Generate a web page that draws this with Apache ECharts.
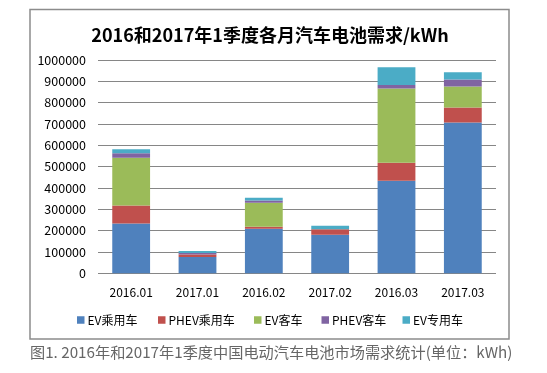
<!DOCTYPE html>
<html><head><meta charset="utf-8">
<script src="https://cdn.jsdelivr.net/npm/echarts@6/dist/echarts.min.js"></script>
<style>html,body{margin:0;padding:0;background:#fff;}#c{width:547px;height:373px;}</style>
</head><body><div id="c"></div>
<script>
const categories = ['2016.01','2017.01','2016.02','2017.02','2016.03','2017.03'];
const seriesNames = ['EV乘用车','PHEV乘用车','EV客车','PHEV客车','EV专用车'];
const evPassenger   = [233500, 76800, 208500, 180300, 434200, 706900];
const phevPassenger = [84500, 11000, 9400, 26600, 84600, 70500];
const evBus         = [224300, 0, 112800, 0, 348000, 98800];
const phevBus       = [20400, 7800, 11000, 0, 15600, 32900];
const evSpecial     = [18800, 9400, 12500, 15700, 83100, 32900];
const yTicks = [0,100000,200000,300000,400000,500000,600000,700000,800000,900000,1000000];
const colors = ['#4F81BD','#C0504D','#9BBB59','#8064A2','#4BACC6'];
const data = [evPassenger, phevPassenger, evBus, phevBus, evSpecial];
const legendLeft = [72, 153, 249, 316.5, 397.5];

const chart = echarts.init(document.getElementById('c'), null, {renderer:'canvas'});
const font = '"Noto Sans CJK SC","Noto Sans",sans-serif';
chart.setOption({
  animation:false,
  backgroundColor:'#fff',
  color: colors,
  title:{
    text:'2016和2017年1季度各月汽车电池需求/kWh',
    left:265, top:21, textAlign:'center',
    textStyle:{fontFamily:font, fontSize:18, fontWeight:'bold', color:'#000'}
  },
  graphic:[
    {type:'rect', shape:{x:30,y:9.5,width:479,height:329.5}, style:{fill:'none', stroke:'#8c8c8c', lineWidth:1.5}, z:-1},
    {type:'text', left:30, top:345, style:{text:'图1. 2016年和2017年1季度中国电动汽车电池市场需求统计(单位：kWh)', fontFamily:font, fontSize:15.2, fill:'#666'}}
  ],
  legend: seriesNames.map((n,i)=>({
    data:[n], top:309, left:legendLeft[i],
    itemWidth:7.5, itemHeight:7.5, icon:'rect',
    textStyle:{fontFamily:font, fontSize:12, color:'#000', padding:[0,0,0,-2]}
  })),
  grid:{left:98, right:51, top:60, bottom:99.7},
  xAxis:{
    type:'category', data:categories,
    axisLine:{show:false}, axisTick:{show:false},
    axisLabel:{fontFamily:font, fontSize:12, color:'#000', margin:13}
  },
  yAxis:{
    type:'value', min:yTicks[0], max:yTicks[yTicks.length-1], interval:yTicks[1]-yTicks[0],
    axisLine:{show:false}, axisTick:{show:false},
    axisLabel:{fontFamily:font, fontSize:12.5, color:'#000', margin:12, formatter:v=>String(v)},
    splitLine:{lineStyle:{color:'#868686', width:1}}
  },
  series: seriesNames.map((n,i)=>({
    name:n, type:'bar', stack:'total', data:data[i], barWidth:'57%',
    itemStyle:{color:colors[i]}
  }))
});
</script></body></html>
